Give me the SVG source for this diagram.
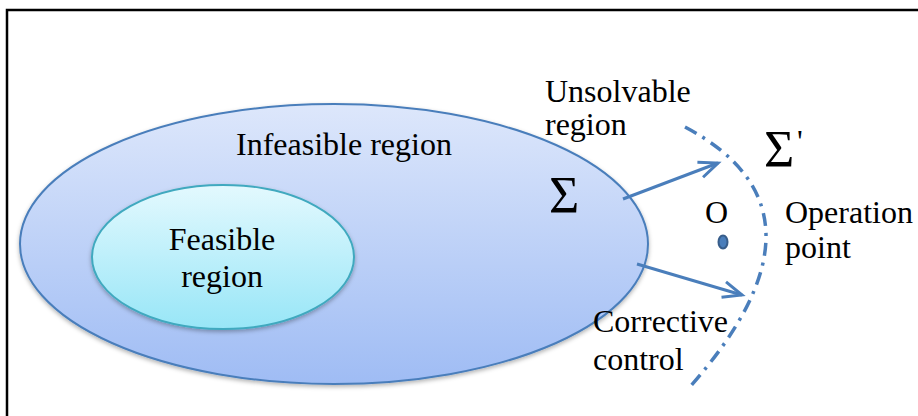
<svg xmlns="http://www.w3.org/2000/svg" width="918" height="416" viewBox="0 0 918 416">
<style>
text{font-family:"Liberation Serif","Times New Roman",serif;font-size:32px;fill:#000}
.sym{font-size:52px}
.conn{fill:none;stroke:#4a7ebb;stroke-width:3}
.curve{fill:none;stroke:#4a7ebb;stroke-width:3.5;stroke-dasharray:13 7 3 7}
</style>
<defs>
<linearGradient id="gOuter" x1="0" y1="0" x2="0" y2="1">
<stop offset="0" stop-color="#dde7fb"/>
<stop offset="1" stop-color="#9fbcf4"/>
</linearGradient>
<linearGradient id="gInner" x1="0" y1="0" x2="0" y2="1">
<stop offset="0" stop-color="#e3f9fe"/>
<stop offset="1" stop-color="#98e6f7"/>
</linearGradient>
<filter id="sh" x="-10%" y="-10%" width="120%" height="130%">
<feDropShadow dx="0" dy="2" stdDeviation="2" flood-color="#000" flood-opacity="0.3"/>
</filter>
<marker id="arr" markerWidth="24" markerHeight="24" refX="20" refY="12" orient="auto" markerUnits="userSpaceOnUse">
<path d="M1 4 L20 12 L1 20" fill="none" stroke="#4a7ebb" stroke-width="3"/>
</marker>
</defs>
<rect width="918" height="416" fill="#fff"/>
<path d="M7 416 V10 H918" fill="none" stroke="#000" stroke-width="2.5"/>
<g id="infeasible">
<ellipse cx="334" cy="244" rx="314" ry="140" fill="url(#gOuter)" stroke="#4a7ebb" stroke-width="2" filter="url(#sh)"/>
<text x="344" y="155" text-anchor="middle">Infeasible region</text>
<text class="sym" x="549" y="213">Σ</text>
</g>
<g id="feasible">
<ellipse cx="223" cy="257" rx="131" ry="72" fill="url(#gInner)" stroke="#40a9bf" stroke-width="2" filter="url(#sh)"/>
<text x="222" y="250" text-anchor="middle">Feasible</text>
<text x="222" y="287" text-anchor="middle">region</text>
</g>
<g id="unsolvable">
<text x="545" y="102">Unsolvable</text>
<text x="545" y="135">region</text>
<text class="sym" x="764" y="167" font-size="50">Σ</text>
<text x="797" y="152" font-size="28">'</text>
</g>
<g id="operation">
<text x="705" y="223">O</text>
<ellipse cx="723" cy="242" rx="4.5" ry="6.5" fill="#4a7ebb" stroke="#385d8a" stroke-width="2"/>
<text x="785" y="223">Operation</text>
<text x="785" y="258">point</text>
</g>
<g id="corrective">
<text x="593" y="332">Corrective</text>
<text x="593" y="370">control</text>
</g>
<g id="connectors">
<path class="curve" d="M685 127 Q845 212 689 388"/>
<line class="conn" x1="623" y1="199" x2="718" y2="163" marker-end="url(#arr)"/>
<line class="conn" x1="637" y1="264" x2="742" y2="295" marker-end="url(#arr)"/>
</g>
</svg>
